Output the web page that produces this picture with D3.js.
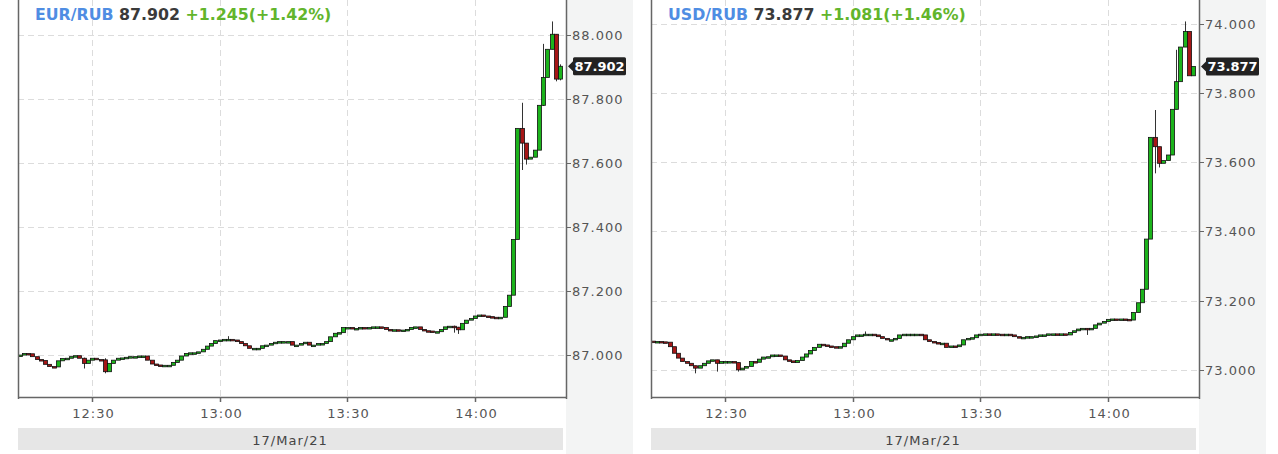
<!DOCTYPE html>
<html><head><meta charset="utf-8">
<script src="https://cdn.jsdelivr.net/npm/d3@7"></script>
<style>
body{margin:0;background:#fff;}
svg{display:block;font-family:"DejaVu Sans",sans-serif;}
</style>
</head><body>
<svg id="c" width="1278" height="454"></svg>
<script>
// ---------- data ----------
const timeTicks = ["12:30","13:00","13:30","14:00"];
const dateLabel = "17/Mar/21";
const firstCandle = "12:13";           // 1-minute candles
const eurTicks = [87.0, 87.2, 87.4, 87.6, 87.8, 88.0];
const usdTicks = [73.0, 73.2, 73.4, 73.6, 73.8, 74.0];
const eurTitle = ["EUR/RUB", "87.902", "+1.245(+1.42%)"];
const usdTitle = ["USD/RUB", "73.877", "+1.081(+1.46%)"];
const eurOpen0 = 86.998;
const usdOpen0 = 73.083;
const eurClose = [
 87.000,87.005,87.004,86.995,86.986,86.983,86.971,86.964,86.963,86.982,
 86.989,86.990,86.995,86.998,86.990,86.974,86.984,86.990,86.986,86.985,
 86.948,86.974,86.984,86.990,86.991,86.993,86.995,86.995,86.997,86.997,
 86.984,86.972,86.969,86.966,86.968,86.968,86.977,86.984,86.997,87.005,
 87.007,87.007,87.010,87.018,87.028,87.036,87.045,87.047,87.049,87.049,
 87.047,87.042,87.036,87.029,87.021,87.021,87.021,87.029,87.031,87.036,
 87.040,87.042,87.042,87.042,87.031,87.031,87.036,87.040,87.031,87.031,
 87.036,87.036,87.042,87.057,87.068,87.070,87.086,87.086,87.083,87.083,
 87.086,87.085,87.086,87.088,87.088,87.086,87.080,87.079,87.079,87.078,
 87.078,87.080,87.086,87.088,87.080,87.076,87.075,87.073,87.073,87.080,
 87.088,87.090,87.087,87.079,87.099,87.109,87.114,87.122,87.125,87.122,
 87.120,87.118,87.114,87.118,87.152,87.187,87.361,87.708,87.662,87.612,
 87.618,87.640,87.780,87.867,87.955,88.002,87.862,87.902];
const usdClose = [
 73.082,73.082,73.081,73.080,73.067,73.048,73.034,73.024,73.019,73.012,
 73.005,73.012,73.019,73.026,73.029,73.019,73.024,73.024,73.024,73.021,
 73.000,73.005,73.010,73.024,73.022,73.031,73.037,73.038,73.043,73.043,
 73.040,73.029,73.026,73.021,73.027,73.037,73.046,73.056,73.065,73.074,
 73.072,73.069,73.067,73.063,73.067,73.077,73.087,73.096,73.101,73.101,
 73.103,73.103,73.101,73.096,73.091,73.087,73.087,73.091,73.101,73.103,
 73.103,73.103,73.103,73.101,73.087,73.082,73.079,73.077,73.077,73.065,
 73.069,73.067,73.072,73.087,73.091,73.093,73.101,73.103,73.104,73.103,
 73.104,73.103,73.101,73.103,73.101,73.096,73.094,73.094,73.096,73.096,
 73.098,73.101,73.101,73.104,73.104,73.103,73.104,73.101,73.108,73.113,
 73.118,73.120,73.116,73.120,73.130,73.135,73.140,73.146,73.147,73.146,
 73.147,73.146,73.144,73.166,73.194,73.233,73.378,73.672,73.645,73.597,
 73.605,73.621,73.753,73.833,73.933,73.978,73.850,73.877];
// visible wicks: [candle index, high, low]
const eurWicks = [[15,86.992,86.958],[20,86.990,86.943],[49,87.059,87.045],
 [102,87.092,87.070],[103,87.088,87.066],[118,87.788,87.578],[119,87.662,87.595],
 [123,87.972,87.778],[125,88.042,87.955],[126,88.002,87.855],[127,87.908,87.858]];
const usdWicks = [[10,73.012,72.990],[15,73.029,72.995],[20,73.021,72.995],
 [50,73.111,73.100],[102,73.120,73.101],[118,73.751,73.568],[119,73.645,73.585],
 [123,73.925,73.753],[125,74.007,73.933]];
const eurDomain = [86.869, 88.109];
const usdDomain = [72.9216, 74.069];

// ---------- drawing ----------
const svg = d3.select("#c");
const W = 548, left = 18, right = 566, bottom = 397;
const day = (h, m, s) => new Date(2021, 2, 17, h, m, s || 0);
const [fh, fm] = firstCandle.split(":").map(Number);

function candles(closes, open0, wicks) {
  const wm = new Map(wicks.map(w => [w[0], w]));
  return closes.map((c, i) => {
    const o = i === 0 ? open0 : closes[i - 1];
    const w = wm.get(i);
    return {t: day(fh, fm + i), o, c,
      h: w ? w[1] : Math.max(o, c), l: w ? w[2] : Math.min(o, c)};
  });
}

function panel(ox, id, title, closes, open0, wicks, ticks, domain) {
  const g = svg.append("g").attr("transform", `translate(${ox},0)`);
  const x = d3.scaleTime().domain([day(12, 12, 36), day(14, 21, 24)]).range([left, right]);
  const y = d3.scaleLinear().domain(domain).range([bottom, 0]);
  const data = candles(closes, open0, wicks);

  // right strip
  g.append("rect").attr("x", right).attr("y", 0).attr("width", 67).attr("height", 454).attr("fill", "#f3f4f4");
  // date band
  g.append("rect").attr("x", left).attr("y", 428).attr("width", 545).attr("height", 22).attr("fill", "#e6e6e6");
  g.append("text").attr("x", 290).attr("y", 445).attr("text-anchor", "middle")
    .attr("font-size", 13).attr("letter-spacing", 1).attr("fill", "#444").text(dateLabel);

  const tickDates = timeTicks.map(s => { const [h, m] = s.split(":").map(Number); return day(h, m); });
  // grid
  g.selectAll(".gy").data(ticks).join("line")
    .attr("x1", left).attr("x2", right).attr("y1", d => Math.round(y(d)) + 0.5).attr("y2", d => Math.round(y(d)) + 0.5)
    .attr("stroke", "#dcdcdc").attr("stroke-dasharray", "6,4");
  g.selectAll(".gx").data(tickDates).join("line")
    .attr("x1", d => Math.round(x(d)) + 0.5).attr("x2", d => Math.round(x(d)) + 0.5).attr("y1", 0).attr("y2", bottom)
    .attr("stroke", "#dcdcdc").attr("stroke-dasharray", "6,4");

  // candles
  svg.append("clipPath").attr("id", "clip" + id).append("rect")
    .attr("x", left + 1).attr("y", 0).attr("width", W - 2).attr("height", bottom);
  const cg = g.append("g").attr("clip-path", `url(#clip${id})`);
  cg.selectAll(".wk").data(data.filter(d => d.h > Math.max(d.o, d.c) || d.l < Math.min(d.o, d.c))).join("line")
    .attr("x1", d => Math.round(x(d.t)) + 0.5).attr("x2", d => Math.round(x(d.t)) + 0.5)
    .attr("y1", d => y(d.h)).attr("y2", d => y(d.l)).attr("stroke", "#333").attr("stroke-width", 1);
  cg.selectAll(".bd").data(data).join("rect")
    .attr("x", d => Math.round(x(d.t)) - 1.5)
    .attr("width", 4)
    .attr("y", d => Math.min(y(d.o), y(d.c)))
    .attr("height", d => Math.max(1.5, Math.abs(y(d.o) - y(d.c))))
    .attr("fill", d => d.c >= d.o ? "#1cb41c" : "#a61616")
    .attr("stroke", "#111").attr("stroke-width", 0.8);

  // axes
  const ax = "#666";
  g.append("line").attr("x1", left + 0.5).attr("x2", left + 0.5).attr("y1", 0).attr("y2", bottom + 2).attr("stroke", ax).attr("stroke-width", 1.5);
  g.append("line").attr("x1", right + 0.5).attr("x2", right + 0.5).attr("y1", 0).attr("y2", bottom + 2).attr("stroke", ax).attr("stroke-width", 1.5);
  g.append("line").attr("x1", left).attr("x2", right + 1).attr("y1", bottom + 0.5).attr("y2", bottom + 0.5).attr("stroke", ax).attr("stroke-width", 1.5);

  const ya = g.append("g");
  ticks.forEach(v => {
    const yy = Math.round(y(v)) + 0.5;
    ya.append("line").attr("x1", right).attr("x2", right + 5).attr("y1", yy).attr("y2", yy).attr("stroke", ax);
    ya.append("text").attr("x", right + 6).attr("y", yy + 4.5).attr("font-size", 13).attr("letter-spacing", 1)
      .attr("fill", "#555").text(d3.format(".3f")(v));
  });
  tickDates.forEach((d, i) => {
    const xx = Math.round(x(d)) + 0.5;
    g.append("line").attr("x1", xx).attr("x2", xx).attr("y1", bottom).attr("y2", bottom + 5).attr("stroke", ax).attr("stroke-width", 1.5);
    g.append("text").attr("x", xx + 1).attr("y", 418).attr("text-anchor", "middle").attr("font-size", 13)
      .attr("letter-spacing", 1).attr("fill", "#555").text(timeTicks[i]);
  });

  // last price label
  const last = closes[closes.length - 1];
  const ly = y(last);
  const tip = right + 2, bx = right + 7, ex = right + 60, hh = 9;
  g.append("path").attr("d",
    `M${tip},${ly} L${bx},${ly - 5} L${bx},${ly - hh + 1.5} Q${bx},${ly - hh} ${bx + 1.5},${ly - hh} L${ex - 1.5},${ly - hh} Q${ex},${ly - hh} ${ex},${ly - hh + 1.5} L${ex},${ly + hh - 1.5} Q${ex},${ly + hh} ${ex - 1.5},${ly + hh} L${bx + 1.5},${ly + hh} Q${bx},${ly + hh} ${bx},${ly + hh - 1.5} L${bx},${ly + 5} Z`)
    .attr("fill", "#222");
  g.append("text").attr("x", (bx + ex) / 2).attr("y", ly + 4.7).attr("text-anchor", "middle")
    .attr("font-size", 13).attr("font-weight", "bold").attr("fill", "#fff").text(title[1]);

  // title
  const t = g.append("text").attr("x", left + 17).attr("y", 20).attr("font-size", 15.8).attr("font-weight", "bold");
  t.append("tspan").attr("fill", "#4f8de3").text(title[0]);
  t.append("tspan").attr("fill", "#3a3a3a").text(" " + title[1]);
  t.append("tspan").attr("fill", "#62b52c").text(" " + title[2]);
}

panel(0, "e", eurTitle, eurClose, eurOpen0, eurWicks, eurTicks, eurDomain);
panel(633, "u", usdTitle, usdClose, usdOpen0, usdWicks, usdTicks, usdDomain);
</script>
</body></html>
